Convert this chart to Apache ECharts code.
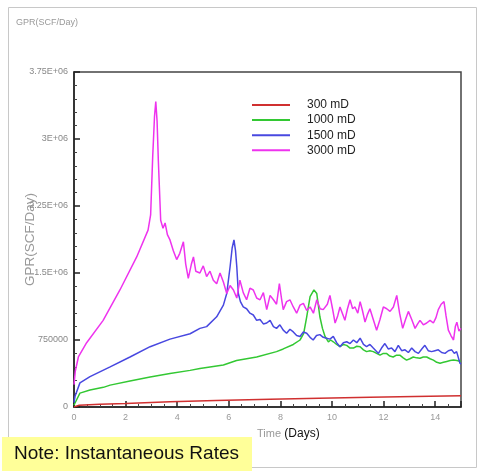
<!DOCTYPE html>
<html>
<head>
<meta charset="utf-8">
<script src="https://cdn.jsdelivr.net/npm/echarts@6/dist/echarts.min.js"></script>
<style>
  html, body { margin: 0; padding: 0; background: #fff; }
  #main { width: 478px; height: 471px; }
</style>
</head>
<body>
<div id="main"></div>
<script>
// gas production rate in MMSCF/day
const seriesNames = ['300 mD', '1000 mD', '1500 mD', '3000 mD'];
const colors = ['#d03030', '#33c833', '#4848e0', '#ee33ee'];
const yTicks = ['0', '750000', '1.5E+06', '2.25E+06', '3E+06', '3.75E+06'];

const days300 = [0, 0.2, 1, 2, 3.72, 5.5, 7.6, 9.5, 11.47, 13.2, 15];
const gpr300 = [0, 0.02, 0.03, 0.04, 0.06, 0.072, 0.086, 0.098, 0.11, 0.118, 0.125];

const days1000 = [0, 0.04, 0.23, 0.62, 1.14, 1.4, 2.17, 2.95, 3.72, 4.5, 4.88, 5.79, 6.3, 7.08, 7.85, 8.11, 8.5, 8.76, 8.9, 9.02, 9.15, 9.3, 9.41, 9.53, 9.63, 9.73, 9.86, 9.95, 10.05, 10.18, 10.31, 10.44, 10.57, 10.7, 10.83, 10.96, 11.09, 11.22, 11.34, 11.47, 11.6, 11.73, 11.86, 11.99, 12.11, 12.24, 12.37, 12.5, 12.63, 12.76, 12.89, 13.02, 13.15, 13.28, 13.41, 13.54, 13.67, 13.8, 13.93, 14.06, 14.19, 14.32, 14.45, 14.58, 14.71, 14.84, 15];
const gpr1000 = [0.02, 0.045, 0.155, 0.19, 0.22, 0.245, 0.29, 0.335, 0.375, 0.41, 0.43, 0.47, 0.52, 0.56, 0.62, 0.65, 0.7, 0.75, 0.82, 1.01, 1.235, 1.31, 1.27, 1.01, 0.88, 0.79, 0.73, 0.75, 0.73, 0.7, 0.675, 0.7, 0.69, 0.66, 0.66, 0.68, 0.675, 0.64, 0.62, 0.63, 0.62, 0.6, 0.58, 0.6, 0.6, 0.57, 0.56, 0.58, 0.58, 0.55, 0.525, 0.54, 0.56, 0.55, 0.545, 0.56, 0.56, 0.54, 0.525, 0.5, 0.49, 0.5, 0.51, 0.52, 0.525, 0.52, 0.51];

const days1500 = [0, 0.04, 0.23, 0.62, 1.4, 2.17, 2.95, 3.72, 4.5, 4.88, 5.14, 5.53, 5.79, 5.92, 6.05, 6.13, 6.2, 6.26, 6.31, 6.37, 6.45, 6.56, 6.69, 6.82, 6.95, 7.08, 7.21, 7.34, 7.47, 7.6, 7.73, 7.85, 7.98, 8.11, 8.24, 8.37, 8.5, 8.63, 8.76, 8.89, 9.02, 9.15, 9.27, 9.4, 9.53, 9.66, 9.79, 9.92, 10.05, 10.18, 10.31, 10.44, 10.57, 10.7, 10.83, 10.96, 11.09, 11.22, 11.34, 11.47, 11.6, 11.7, 11.8, 11.92, 12.05, 12.18, 12.31, 12.44, 12.57, 12.7, 12.83, 12.96, 13.09, 13.22, 13.35, 13.48, 13.6, 13.73, 13.86, 13.99, 14.12, 14.25, 14.38, 14.51, 14.64, 14.74, 14.83, 14.9, 14.96, 15];
const gpr1500 = [0.05, 0.12, 0.27, 0.34, 0.45, 0.56, 0.675, 0.76, 0.82, 0.88, 0.9, 1.01, 1.14, 1.27, 1.57, 1.78, 1.87, 1.75, 1.57, 1.27, 1.18, 1.12, 1.1, 1.05, 1.03, 0.97, 0.98, 0.93, 0.94, 0.97, 0.9, 0.88, 0.92, 0.86, 0.825, 0.87, 0.84, 0.8, 0.79, 0.84, 0.825, 0.78, 0.75, 0.8, 0.81, 0.78, 0.77, 0.76, 0.79, 0.72, 0.675, 0.72, 0.73, 0.71, 0.75, 0.72, 0.77, 0.7, 0.675, 0.7, 0.66, 0.63, 0.6, 0.66, 0.71, 0.65, 0.66, 0.62, 0.69, 0.63, 0.64, 0.61, 0.66, 0.62, 0.6, 0.65, 0.69, 0.63, 0.62, 0.63, 0.64, 0.61, 0.6, 0.63, 0.64, 0.6, 0.62, 0.6, 0.49, 0.48];

const days3000 = [0, 0.05, 0.17, 0.49, 1.13, 1.78, 2.43, 2.87, 2.97, 3.05, 3.12, 3.17, 3.22, 3.27, 3.36, 3.45, 3.53, 3.62, 3.72, 3.85, 3.98, 4.1, 4.24, 4.33, 4.43, 4.55, 4.63, 4.72, 4.88, 5.01, 5.14, 5.27, 5.4, 5.53, 5.66, 5.79, 5.92, 6.05, 6.18, 6.31, 6.43, 6.56, 6.69, 6.82, 6.95, 7.08, 7.21, 7.34, 7.47, 7.6, 7.73, 7.85, 7.96, 8.04, 8.11, 8.24, 8.37, 8.5, 8.63, 8.76, 8.89, 9.02, 9.15, 9.28, 9.41, 9.54, 9.66, 9.73, 9.82, 9.92, 10.02, 10.12, 10.22, 10.31, 10.4, 10.5, 10.6, 10.7, 10.8, 10.89, 11, 11.09, 11.18, 11.28, 11.38, 11.47, 11.6, 11.73, 11.86, 11.99, 12.12, 12.25, 12.38, 12.51, 12.62, 12.74, 12.85, 12.96, 13.09, 13.22, 13.32, 13.41, 13.54, 13.67, 13.8, 13.93, 14.03, 14.12, 14.23, 14.34, 14.42, 14.51, 14.61, 14.71, 14.78, 14.84, 14.92, 15];
const gpr3000 = [0.25, 0.4, 0.56, 0.72, 0.97, 1.31, 1.68, 1.98, 2.15, 2.8, 3.25, 3.42, 3.2, 2.75, 2.09, 2, 2.06, 1.93, 1.87, 1.75, 1.65, 1.72, 1.85, 1.6, 1.44, 1.6, 1.68, 1.52, 1.5, 1.58, 1.46, 1.52, 1.42, 1.38, 1.5, 1.4, 1.27, 1.36, 1.31, 1.22, 1.42, 1.28, 1.2, 1.33, 1.31, 1.22, 1.2, 1.28, 1.09, 1.25, 1.2, 1.15, 1.38, 1.22, 1.09, 1.18, 1.2, 1.12, 1.05, 1.14, 1.16, 1.08, 1.12, 1.05, 1.2, 1.1, 1.09, 1.09, 1.15, 1.25, 1.1, 0.94, 1.02, 1.12, 1.05, 0.97, 1.1, 1.2, 1.1, 1.12, 1.05, 1.18, 1.08, 0.95, 1.04, 1.1, 0.98, 0.86, 0.98, 1.12, 1.1, 1.07, 1.12, 1.25, 1.05, 0.88, 0.98, 1.07, 0.98, 0.88, 0.93, 0.97, 0.92, 0.94, 0.97, 0.94, 1, 1.09, 1.15, 1.18, 1.02, 0.86, 0.8, 0.75, 0.9, 0.95, 0.85, 0.88];

const allDays = [days300, days1000, days1500, days3000];
const allGpr = [gpr300, gpr1000, gpr1500, gpr3000];

const chart = echarts.init(document.getElementById('main'), null, { renderer: 'canvas' });

const sans = '"Liberation Sans", Arial, sans-serif';

function toPairs(days, gpr) {
  // MMSCF -> SCF
  return days.map((d, i) => [d, gpr[i] * 1e6]);
}

const series = seriesNames.map((name, k) => ({
  name: name,
  type: 'line',
  symbol: 'none',
  data: toPairs(allDays[k], allGpr[k]),
  lineStyle: { color: colors[k], width: 1.5 },
  itemStyle: { color: colors[k] },
  z: 2 + k
}));

const option = {
  animation: false,
  backgroundColor: '#fff',
  grid: {
    left: 74, top: 72, width: 387, height: 335,
    outerBoundsMode: 'none',
    containLabel: false,
    show: true, borderColor: '#444', borderWidth: 1.5, backgroundColor: 'transparent'
  },
  legend: {
    left: 247, top: 94,
    orient: 'vertical',
    icon: 'rect',
    itemWidth: 38, itemHeight: 2, itemGap: 3.1,
    textStyle: { fontFamily: sans, fontSize: 12, color: '#222', padding: [0, 0, 0, 12] },
    data: seriesNames
  },
  xAxis: {
    type: 'value',
    min: 0, max: 15, interval: 2,
    axisLine: { show: true, lineStyle: { color: '#222', width: 1.5 } },
    axisTick: { show: true, inside: true, length: 6, lineStyle: { color: '#222', width: 1.5 } },
    minorTick: { show: true, splitNumber: 4, length: 3, lineStyle: { color: '#444' } },
    splitLine: { show: false },
    axisLabel: { color: '#999', fontFamily: sans, fontSize: 9, margin: 6, showMaxLabel: false }
  },
  yAxis: {
    type: 'value',
    min: 0, max: 3750000, interval: 750000,
    name: 'GPR(SCF/Day)',
    nameLocation: 'middle',
    nameGap: 37,
    nameMoveOverlap: false,
    nameTextStyle: { color: '#999', fontFamily: sans, fontSize: 13.5 },
    axisLine: { show: true, lineStyle: { color: '#222', width: 1.5 } },
    axisTick: { show: true, inside: true, length: 6, lineStyle: { color: '#222', width: 1.5 } },
    minorTick: { show: true, splitNumber: 5, length: 3, lineStyle: { color: '#444' } },
    splitLine: { show: false },
    axisLabel: {
      color: '#888', fontFamily: sans, fontSize: 9, margin: 6,
      formatter: function (v) { return yTicks[Math.round(v / 750000)]; }
    }
  },
  series: series,
  graphic: [
    {
      type: 'rect', z: -1, silent: true,
      shape: { x: 8.5, y: 7.5, width: 468, height: 460 },
      style: { fill: 'none', stroke: '#c8c8c8', lineWidth: 1 }
    },
    {
      type: 'text', left: 16, top: 18,
      style: { text: 'GPR(SCF/Day)', fill: '#999', font: '9px ' + sans }
    },
    {
      type: 'text', left: 257, top: 428,
      style: {
        text: '{a|Time} {b|(Days)}',
        rich: {
          a: { fill: '#999', fontFamily: sans, fontSize: 11 },
          b: { fill: '#111', fontFamily: sans, fontSize: 12 }
        }
      }
    },
    {
      type: 'rect', z: 10,
      shape: { x: 2, y: 437, width: 250, height: 34 },
      style: { fill: '#ffff99' }
    },
    {
      type: 'text', z: 11, left: 14, top: 444,
      style: { text: 'Note: Instantaneous Rates', fill: '#111', font: '19px ' + sans }
    }
  ]
};

chart.setOption(option);
</script>
</body>
</html>
